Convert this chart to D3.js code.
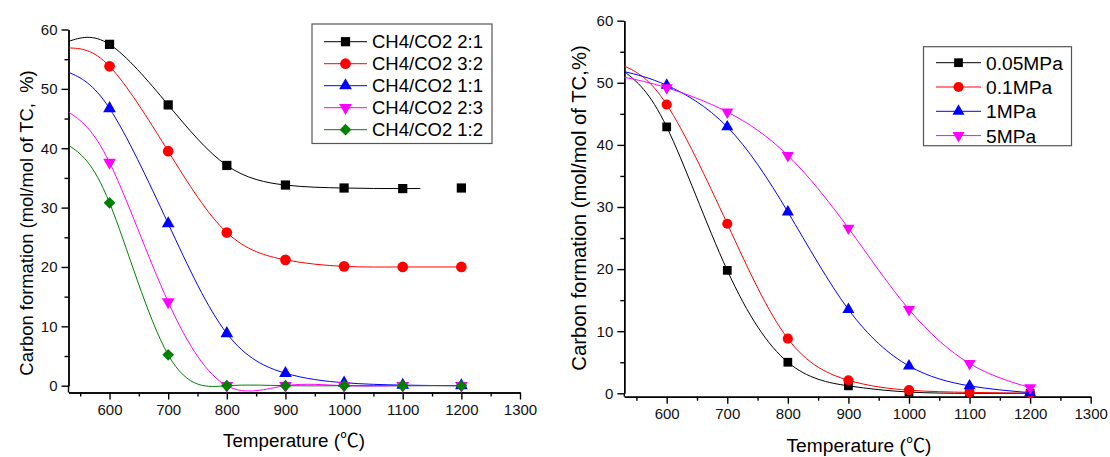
<!DOCTYPE html>
<meta charset="utf-8">
<style>
body { margin: 0; background: #fff; }
svg { font-family: "Liberation Sans", Arial, sans-serif; }
.axis path, .axis line { stroke: #000; stroke-width: 1.4px; }
.axis text { font-size: 15px; fill: #111; }
.curve { fill: none; stroke-width: 1px; }
</style>
<svg width="1110" height="457"></svg>
<script src="https://d3js.org/d3.v7.min.js"></script>
<script>

var temps = [600, 700, 800, 900, 1000, 1100, 1200];

// left panel: CH4/CO2 ratio
var ratioNames = ["CH4/CO2 2:1", "CH4/CO2 3:2", "CH4/CO2 1:1", "CH4/CO2 2:3", "CH4/CO2 1:2"];
var ratio21 = [57.5, 47.3, 37.1, 33.8, 33.3, 33.2, 33.3];
var ratio32 = [53.8, 39.5, 25.8, 21.2, 20.1, 20.0, 20.0];
var ratio11 = [46.7, 27.3, 8.8, 2.1, 0.5, 0.1, 0.0];
var ratio23 = [37.6, 14.1, 0.0, 0.0, 0.0, 0.0, 0.0];
var ratio12 = [30.8, 5.2, 0.0, 0.0, 0.0, 0.0, 0.0];
// fitted curve values at the left edge (530 C) and where each fit stops
var ratioFitStart = [58.0, 56.9, 52.8, 46.1, 40.5];
var ratioFitEnd = [1130, 1200, 1200, 1200, 1200];

// right panel: pressure
var pressNames = ["0.05MPa", "0.1MPa", "1MPa", "5MPa"];
var p005 = [42.9, 19.8, 5.0, 1.2, 0.2, 0.0, 0.0];
var p01 = [46.5, 27.3, 8.8, 2.1, 0.5, 0.15, 0.0];
var p1 = [49.6, 42.9, 29.2, 13.5, 4.4, 1.2, 0.1];
var p5 = [49.2, 45.3, 38.3, 26.6, 13.5, 4.8, 0.9];
var pressFitStart = [51.8, 52.7, 51.8, 50.9];
var pressFitEnd = [1200, 1200, 1200, 1200];

var xTicks = [600, 700, 800, 900, 1000, 1100, 1200, 1300];
var xMinor = [550, 650, 750, 850, 950, 1050, 1150, 1250];
var yTicks = [0, 10, 20, 30, 40, 50, 60];
var yMinor = [5, 15, 25, 35, 45, 55];

var colors = ["#000000", "#ff0000", "#0000ff", "#ff00ff", "#008000"];
var shapes = ["square", "circle", "up", "down", "diamond"];

var svg = d3.select("svg");

function symbolPath(shape, k) {
  if (shape == "square") return d3.symbol(d3.symbolSquare, 85 * k)();
  if (shape == "circle") return d3.symbol(d3.symbolCircle, 90 * k)();
  if (shape == "diamond") return d3.symbol(d3.symbolSquare, 68 * k)();
  return d3.symbol(d3.symbolTriangle, 70 * k)();
}
function symbolRot(shape) {
  if (shape == "down") return 180;
  if (shape == "diamond") return 45;
  return 0;
}

function drawPanel(p) {
  var g = svg.append("g");
  var x = d3.scaleLinear().domain([530, 1300]).range(p.xr);
  var y = d3.scaleLinear().domain([0, 60]).range([p.y0, p.y60]);
  var ybot = y(p.ymin);

  // axes
  g.append("g").attr("class", "axis")
    .attr("transform", "translate(0," + ybot + ")")
    .call(d3.axisBottom(x).tickValues(xTicks).tickSize(7).tickSizeOuter(0)
      .tickPadding(5).tickFormat(d3.format("d")));
  g.append("g").attr("class", "axis")
    .attr("transform", "translate(0," + ybot + ")")
    .call(d3.axisBottom(x).tickValues(xMinor).tickSize(4).tickSizeOuter(0).tickFormat(""));
  g.append("g").attr("class", "axis")
    .attr("transform", "translate(" + p.xr[0] + ",0)")
    .call(d3.axisLeft(y).tickValues(yTicks).tickSize(7).tickSizeOuter(0).tickPadding(4));
  g.append("g").attr("class", "axis")
    .attr("transform", "translate(" + p.xr[0] + ",0)")
    .call(d3.axisLeft(y).tickValues(yMinor).tickSize(4).tickSizeOuter(0).tickFormat(""));
  // extend y axis line down to the x axis
  g.append("line")
    .attr("x1", p.xr[0]).attr("x2", p.xr[0])
    .attr("y1", y(0)).attr("y2", ybot)
    .attr("stroke", "#000").attr("stroke-width", 1.4);

  // titles
  var xt = g.append("text")
    .attr("x", p.xTitle[0]).attr("y", p.xTitle[1])
    .attr("text-anchor", "middle")
    .style("font-size", p.xTitleSize + "px");
  xt.append("tspan").text("Temperature (");
  xt.append("tspan").style("font-family", "'Noto Sans CJK SC'").text("\u2103");
  xt.append("tspan").text(")");
  g.append("text")
    .attr("transform", "translate(" + p.yTitle[0] + "," + p.yTitle[1] + ") rotate(-90)")
    .attr("text-anchor", "middle")
    .style("font-size", p.yTitleSize + "px")
    .text(p.yLabel);

  var line = d3.line()
    .x(function(d) { return x(d[0]); })
    .y(function(d) { return y(d[1]); })
    .curve(d3.curveNatural);

  p.series.forEach(function(vals, i) {
    var pts = [[530, p.fitStart[i]]].concat(temps.map(function(t, j) { return [t, vals[j]]; }));
    var clipId = p.id + "clip" + i;
    g.append("clipPath").attr("id", clipId)
      .append("rect")
      .attr("x", x(530)).attr("y", 0)
      .attr("width", x(p.fitEnd[i]) - x(530)).attr("height", 457);
    g.append("path")
      .attr("class", "curve")
      .attr("clip-path", "url(#" + clipId + ")")
      .attr("stroke", colors[i])
      .attr("d", line(pts));
  });

  p.series.forEach(function(vals, i) {
    g.append("g").selectAll("path")
      .data(temps.map(function(t, j) { return [t, vals[j]]; }))
      .enter().append("path")
      .attr("d", symbolPath(shapes[i], p.k))
      .attr("fill", colors[i])
      .attr("transform", function(d) {
        return "translate(" + x(d[0]) + "," + y(d[1]) + ") rotate(" + symbolRot(shapes[i]) + ")";
      });
  });

  // legend
  var L = p.legend;
  var lg = g.append("g");
  lg.append("rect")
    .attr("x", L.x).attr("y", L.y)
    .attr("width", L.w).attr("height", L.h)
    .attr("fill", "#fff").attr("stroke", "#555").attr("stroke-width", 1.2);
  p.names.forEach(function(name, i) {
    var cy = L.y + L.first + i * L.step;
    lg.append("line")
      .attr("x1", L.lx).attr("x2", L.lx + L.lw)
      .attr("y1", cy).attr("y2", cy)
      .attr("stroke", colors[i]).attr("stroke-width", 1);
    lg.append("path")
      .attr("d", symbolPath(shapes[i], p.k))
      .attr("fill", colors[i])
      .attr("transform", "translate(" + (L.lx + L.lw / 2) + "," + cy + ") rotate(" + symbolRot(shapes[i]) + ")");
    lg.append("text")
      .attr("x", L.lx + L.lw + 5).attr("y", cy)
      .attr("dy", "0.36em")
      .style("font-size", L.fs + "px")
      .text(name);
  });
}

drawPanel({
  id: "L",
  xr: [68.5, 520], y0: 385.7, y60: 29.5, ymin: -1.15,
  series: [ratio21, ratio32, ratio11, ratio23, ratio12],
  names: ratioNames, fitStart: ratioFitStart, fitEnd: ratioFitEnd,
  k: 1,
  xTitleSize: 18.8, yTitleSize: 18.4,
  xTitle: [294, 447], yTitle: [33, 223],
  yLabel: "Carbon formation (mol/mol of TC,\u00A0\u00A0%)",
  legend: { x: 312, y: 24, w: 180, h: 119.5, first: 17.7, step: 22, lx: 324, lw: 43, fs: 18.5 }
});

drawPanel({
  id: "R",
  xr: [624.3, 1090.7], y0: 393.3, y60: 20.7, ymin: -0.55,
  series: [p005, p01, p1, p5],
  names: pressNames, fitStart: pressFitStart, fitEnd: pressFitEnd,
  k: 0.9,
  xTitleSize: 19.2, yTitleSize: 20.3,
  xTitle: [859, 452], yTitle: [586, 208],
  yLabel: "Carbon formation (mol/mol of TC,%)",
  legend: { x: 923.5, y: 46.7, w: 148, h: 99, first: 16, step: 24.3, lx: 936, lw: 45, fs: 19.2 }
});

</script>
